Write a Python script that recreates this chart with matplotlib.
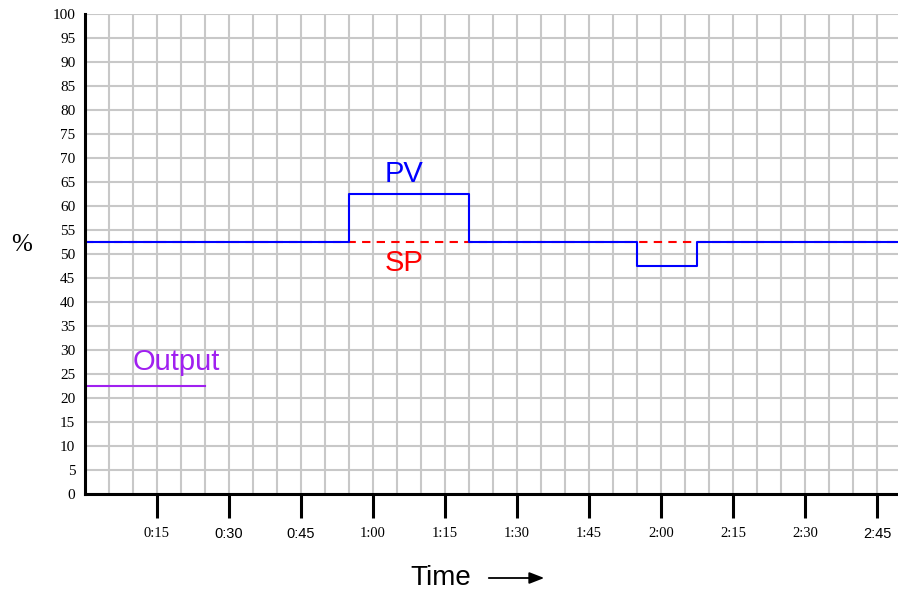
import numpy as np
import matplotlib
matplotlib.use("Agg")
import matplotlib.pyplot as plt
from matplotlib.ticker import MultipleLocator

# data (minutes, percent)
pv_time = [0, 55, 55, 80, 80, 115, 115, 127.5, 127.5, 170]
pv_value = [52.5, 52.5, 62.5, 62.5, 52.5, 52.5, 47.5, 47.5, 52.5, 52.5]
sp_time = [0, 170]
sp_value = [52.5, 52.5]
out_time = [0, 25]
out_value = [22.5, 22.5]

tick_minutes = [15, 30, 45, 60, 75, 90, 105, 120, 135, 150, 165]
tick_labels = ["0:15", "0:30", "0:45", "1:00", "1:15", "1:30",
               "1:45", "2:00", "2:15", "2:30", "2:45"]
sans_labels = ["0:30", "0:45", "2:45"]

W, H = 898, 598
fig = plt.figure(figsize=(W / 100, H / 100), dpi=100)
x0, x1, y0, y1 = 85, 898, 494, 14
ax = fig.add_axes([x0 / W, 1 - y0 / H, (x1 - x0) / W, (y0 - y1) / H])

xmax = (x1 - x0) / 4.8
ax.set_xlim(0, xmax)
ax.set_ylim(0, 100)

ax.xaxis.set_minor_locator(MultipleLocator(5))
ax.set_xticks(tick_minutes)
ax.set_xticklabels(tick_labels)
ax.set_yticks(np.arange(0, 101, 5))
ax.set_yticklabels([str(v) for v in range(0, 101, 5)])

ax.grid(True, which="both", color="#c8c8c8", linewidth=1.5, zorder=0)
ax.set_axisbelow(True)

for s in ["top", "right"]:
    ax.spines[s].set_visible(False)
for s in ["left", "bottom"]:
    ax.spines[s].set_linewidth(2.2)
    ax.spines[s].set_zorder(5)

ax.tick_params(axis="x", which="major", direction="out", length=17, width=2.2,
               pad=7, labelsize=10.5)
ax.tick_params(axis="x", which="minor", length=0)
ax.tick_params(axis="y", length=0, pad=7, labelsize=11)

for lab in ax.get_xticklabels():
    if lab.get_text() in sans_labels:
        lab.set_fontfamily("Liberation Sans")
    else:
        lab.set_fontfamily("Liberation Serif")
for lab in ax.get_yticklabels():
    lab.set_fontfamily("Liberation Serif")

ax.plot(sp_time, sp_value, color="red", linewidth=1.5, dashes=(4, 3), zorder=2)
ax.plot(pv_time, pv_value, color="blue", linewidth=1.5, zorder=3)
ax.plot(out_time, out_value, color="#a020f0", linewidth=1.5, zorder=3)

ax.text(66.5, 66.7, "PV", color="blue", fontsize=21, family="Liberation Sans",
        ha="center", va="center")
ax.text(66.5, 48.1, "SP", color="red", fontsize=21, family="Liberation Sans",
        ha="center", va="center")
ax.text(19, 27.5, "Output", color="#a020f0", fontsize=21, family="Liberation Sans",
        ha="center", va="center")

fig.text(22 / W, 1 - 245 / H, "%", fontsize=18, family="Liberation Serif",
         ha="center", va="center")
fig.text(441 / W, 1 - 578 / H, "Time", fontsize=20, family="Liberation Sans",
         ha="center", va="center")
fig.add_artist(matplotlib.patches.FancyArrowPatch(
    (486 / W, 1 - 578 / H), (547 / W, 1 - 578 / H),
    transform=fig.transFigure, arrowstyle="-|>,head_length=9,head_width=3.5",
    mutation_scale=1, color="black", linewidth=1.3))

fig.savefig("out.png", dpi=100)
